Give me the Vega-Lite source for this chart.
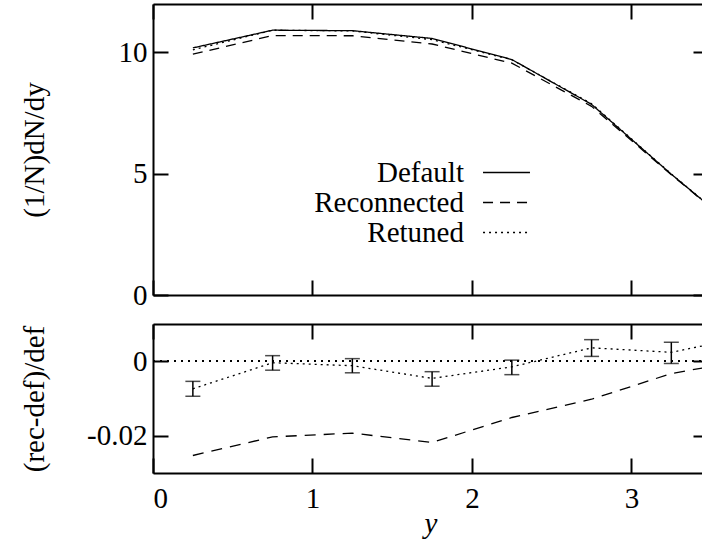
{
  "$schema": "https://vega.github.io/schema/vega-lite/v6.json",
  "padding": {"left": 20, "top": 3, "right": 0, "bottom": 2},
  "config": {
    "font": "Liberation Serif",
    "view": {"stroke": null},
    "concat": {"spacing": 13},
    "axis": {
      "grid": false,
      "domainColor": "black",
      "domainWidth": 2,
      "tickColor": "black",
      "tickWidth": 2,
      "tickSize": -15,
      "labelColor": "black",
      "labelFont": "Liberation Serif",
      "labelFontSize": 29,
      "titleFont": "Liberation Serif",
      "titleFontSize": 29,
      "titleFontWeight": "normal",
      "titleColor": "black"
    },
    "legend": {
      "labelFont": "Liberation Serif",
      "labelFontSize": 29,
      "labelColor": "black"
    }
  },
  "datasets": {
    "spectra": [
      {"y": 0.25, "series": "Default", "value": 10.19},
      {"y": 0.75, "series": "Default", "value": 10.92},
      {"y": 1.25, "series": "Default", "value": 10.90},
      {"y": 1.75, "series": "Default", "value": 10.58},
      {"y": 2.25, "series": "Default", "value": 9.71},
      {"y": 2.75, "series": "Default", "value": 7.86},
      {"y": 3.25, "series": "Default", "value": 4.98},
      {"y": 3.75, "series": "Default", "value": 2.24},
      {"y": 0.25, "series": "Reconnected", "value": 9.93},
      {"y": 0.75, "series": "Reconnected", "value": 10.70},
      {"y": 1.25, "series": "Reconnected", "value": 10.69},
      {"y": 1.75, "series": "Reconnected", "value": 10.35},
      {"y": 2.25, "series": "Reconnected", "value": 9.56},
      {"y": 2.75, "series": "Reconnected", "value": 7.78},
      {"y": 3.25, "series": "Reconnected", "value": 4.96},
      {"y": 3.75, "series": "Reconnected", "value": 2.24},
      {"y": 0.25, "series": "Retuned", "value": 10.11},
      {"y": 0.75, "series": "Retuned", "value": 10.92},
      {"y": 1.25, "series": "Retuned", "value": 10.89},
      {"y": 1.75, "series": "Retuned", "value": 10.53},
      {"y": 2.25, "series": "Retuned", "value": 9.70},
      {"y": 2.75, "series": "Retuned", "value": 7.89},
      {"y": 3.25, "series": "Retuned", "value": 4.99},
      {"y": 3.75, "series": "Retuned", "value": 2.26}
    ],
    "ratios": [
      {"y": 0.25, "series": "Reconnected", "ratio": -0.0253},
      {"y": 0.75, "series": "Reconnected", "ratio": -0.0203},
      {"y": 1.25, "series": "Reconnected", "ratio": -0.0193},
      {"y": 1.75, "series": "Reconnected", "ratio": -0.0218},
      {"y": 2.25, "series": "Reconnected", "ratio": -0.0151},
      {"y": 2.75, "series": "Reconnected", "ratio": -0.0102},
      {"y": 3.25, "series": "Reconnected", "ratio": -0.0033},
      {"y": 3.75, "series": "Reconnected", "ratio": 0.0005},
      {"y": 0.25, "series": "Retuned", "ratio": -0.0074, "lo": -0.0094, "hi": -0.0054},
      {"y": 0.75, "series": "Retuned", "ratio": -0.0004, "lo": -0.0024, "hi": 0.0015},
      {"y": 1.25, "series": "Retuned", "ratio": -0.0012, "lo": -0.0031, "hi": 0.0007},
      {"y": 1.75, "series": "Retuned", "ratio": -0.0046, "lo": -0.0067, "hi": -0.0028},
      {"y": 2.25, "series": "Retuned", "ratio": -0.0015, "lo": -0.0036, "hi": 0.0003},
      {"y": 2.75, "series": "Retuned", "ratio": 0.0036, "lo": 0.0013, "hi": 0.0058},
      {"y": 3.25, "series": "Retuned", "ratio": 0.0024, "lo": -0.0006, "hi": 0.0051},
      {"y": 3.75, "series": "Retuned", "ratio": 0.0068}
    ]
  },
  "vconcat": [
    {
      "width": 555,
      "height": 291,
      "data": {"name": "spectra"},
      "layer": [
        {
          "mark": {"type": "line", "clip": true, "strokeWidth": 1.3, "color": "black"},
          "encoding": {
            "x": {"field": "y", "type": "quantitative",
              "scale": {"domain": [0, 3.48], "nice": false, "zero": false},
              "axis": {"orient": "bottom", "values": [0, 1, 2, 3], "labels": false, "title": null}},
            "y": {"field": "value", "type": "quantitative",
              "scale": {"domain": [0, 12], "nice": false},
              "axis": {"orient": "left", "values": [0, 5, 10], "labelPadding": 21,
                "title": "(1/N)dN/dy", "titleX": -104}},
            "strokeDash": {"field": "series", "type": "nominal",
              "scale": {"domain": ["Default", "Reconnected", "Retuned"], "range": [[1, 0], [10, 7], [2, 4]]},
              "legend": {"orient": "none", "legendX": 339, "legendY": 154, "title": null,
                "symbolType": "M-3,0H3", "symbolSize": 245, "symbolStrokeWidth": 1.3,
                "symbolStrokeColor": "black", "symbolFillColor": "transparent",
                "labelAlign": "right", "labelOffset": -57,
                "labelLimit": 400, "rowPadding": -3}}
          }
        },
        {
          "mark": {"type": "line", "strokeOpacity": 0},
          "encoding": {
            "x": {"field": "y", "type": "quantitative",
              "axis": {"orient": "top", "values": [0, 1, 2, 3], "labels": false, "title": null}},
            "y": {"field": "value", "type": "quantitative",
              "axis": {"orient": "right", "values": [0, 5, 10], "labels": false, "domain": false, "title": null}},
            "detail": {"field": "series"}
          }
        }
      ],
      "resolve": {"axis": {"x": "independent", "y": "independent"}}
    },
    {
      "width": 555,
      "height": 149,
      "data": {"name": "ratios"},
      "layer": [
        {
          "transform": [{"filter": "datum.series == 'Reconnected'"}],
          "mark": {"type": "line", "clip": true, "strokeWidth": 1.3, "color": "black", "strokeDash": [11, 8]},
          "encoding": {
            "x": {"field": "y", "type": "quantitative",
              "scale": {"domain": [0, 3.48], "nice": false, "zero": false},
              "axis": {"orient": "bottom", "values": [0, 1, 2, 3], "format": "d", "labelPadding": 26,
                "title": "y", "titleFontStyle": "italic", "titlePadding": -4}},
            "y": {"field": "ratio", "type": "quantitative",
              "scale": {"domain": [-0.03, 0.01], "nice": false, "zero": false},
              "axis": {"orient": "left", "values": [-0.02, 0], "labelPadding": 21,
                "labelExpr": "datum.value < 0 ? '-' + format(-datum.value, '.2f') : '0'",
                "title": "(rec-def)/def", "titleX": -104}}
          }
        },
        {
          "transform": [{"filter": "datum.series == 'Retuned'"}],
          "mark": {"type": "line", "clip": true, "strokeWidth": 1.3, "color": "black", "strokeDash": [2, 4]},
          "encoding": {
            "x": {"field": "y", "type": "quantitative", "axis": null},
            "y": {"field": "ratio", "type": "quantitative", "axis": null}
          }
        },
        {
          "mark": {"type": "rule", "strokeWidth": 1.1, "color": "black", "strokeDash": [2, 5]},
          "encoding": {"y": {"datum": 0, "axis": null}}
        },
        {
          "transform": [{"filter": "isValid(datum.lo)"}],
          "mark": {"type": "rule", "clip": true, "strokeWidth": 1.5, "color": "black"},
          "encoding": {
            "x": {"field": "y", "type": "quantitative", "axis": null},
            "y": {"field": "lo", "type": "quantitative", "axis": null},
            "y2": {"field": "hi"}
          }
        },
        {
          "transform": [{"filter": "isValid(datum.lo)"}],
          "mark": {"type": "tick", "orient": "horizontal", "size": 15, "thickness": 1.5, "color": "black", "clip": true},
          "encoding": {
            "x": {"field": "y", "type": "quantitative", "axis": null},
            "y": {"field": "lo", "type": "quantitative", "axis": null}
          }
        },
        {
          "transform": [{"filter": "isValid(datum.lo)"}],
          "mark": {"type": "tick", "orient": "horizontal", "size": 15, "thickness": 1.5, "color": "black", "clip": true},
          "encoding": {
            "x": {"field": "y", "type": "quantitative", "axis": null},
            "y": {"field": "hi", "type": "quantitative", "axis": null}
          }
        },
        {
          "mark": {"type": "line", "strokeOpacity": 0},
          "encoding": {
            "x": {"field": "y", "type": "quantitative",
              "axis": {"orient": "top", "values": [0, 1, 2, 3], "labels": false, "title": null}},
            "y": {"field": "ratio", "type": "quantitative",
              "axis": {"orient": "right", "values": [-0.02, 0], "labels": false, "domain": false, "title": null}},
            "detail": {"field": "series"}
          }
        }
      ],
      "resolve": {"axis": {"x": "independent", "y": "independent"}}
    }
  ]
}
